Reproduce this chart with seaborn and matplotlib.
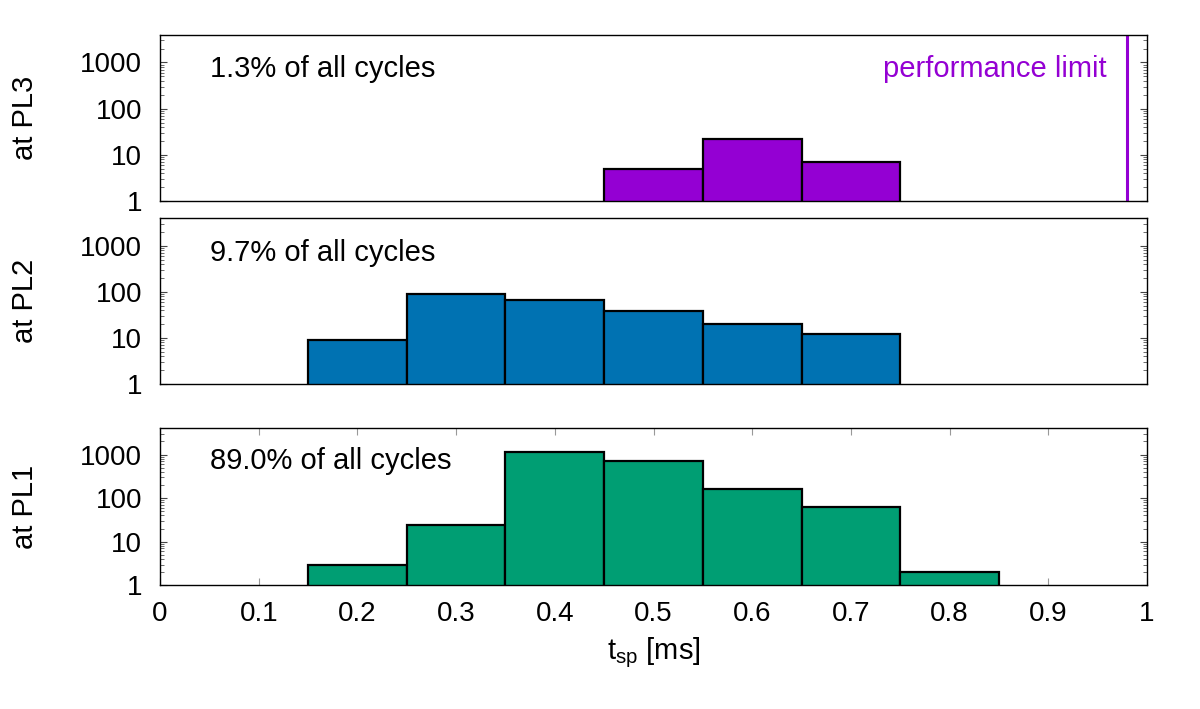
import numpy as np
import pandas as pd
import matplotlib
matplotlib.use("Agg")
import matplotlib.pyplot as plt
import matplotlib.ticker as mticker
import matplotlib.transforms as mtransforms
import seaborn as sns

# ---- data ----
pl3_t = [0.5, 0.6, 0.7]
pl3_n = [5, 22, 7]
pl2_t = [0.2, 0.3, 0.4, 0.5, 0.6, 0.7]
pl2_n = [9, 92, 68, 39, 20, 12]
pl1_t = [0.2, 0.3, 0.4, 0.5, 0.6, 0.7, 0.8]
pl1_n = [3, 24, 1120, 725, 160, 61, 2]
bin_width = 0.1
panel_labels = ["at PL3", "at PL2", "at PL1"]
share_texts = ["1.3% of all cycles", "9.7% of all cycles", "89.0% of all cycles"]
colors = ["#9400D3", "#0072B2", "#009E73"]
perf_limit = 0.98
perf_text = "performance limit"
x_ticks = [0, 0.1, 0.2, 0.3, 0.4, 0.5, 0.6, 0.7, 0.8, 0.9, 1.0]
y_ticks = [1, 10, 100, 1000]

sns.set_style("white")
plt.rcParams["font.family"] = ["Liberation Sans", "DejaVu Sans"]
plt.rcParams["mathtext.fontset"] = "custom"
plt.rcParams["mathtext.rm"] = "Liberation Sans"
plt.rcParams["mathtext.it"] = "Liberation Sans"
plt.rcParams["text.color"] = "black"
plt.rcParams["axes.labelcolor"] = "black"
plt.rcParams["xtick.color"] = "black"
plt.rcParams["ytick.color"] = "black"

W, H = 1200, 709
fig = plt.figure(figsize=(W / 100, H / 100), dpi=100)

# axes boxes in pixels: (left, top, right, bottom)
boxes = [(160, 34.7, 1147, 201.0), (160, 218.3, 1147, 383.7), (160, 428.3, 1147, 585.3)]
series = [(pl3_t, pl3_n), (pl2_t, pl2_n), (pl1_t, pl1_n)]
text_y = [0.747, 0.744, 0.739]
FS = 21
TFS = 20

axes = []
for i, ((l, t, r, b), (tt, nn)) in enumerate(zip(boxes, series)):
    ax = fig.add_axes([l / W, (H - b) / H, (r - l) / W, (b - t) / H])
    axes.append(ax)
    df = pd.DataFrame({"t": tt, "n": nn})
    lo = min(tt) - bin_width / 2
    hi = max(tt) + bin_width / 2
    sns.histplot(data=df, x="t", weights="n", binwidth=bin_width, binrange=(lo, hi),
                 ax=ax, color=colors[i], edgecolor="black", linewidth=1.6,
                 alpha=1.0, stat="count")
    ax.set_yscale("log")
    ax.set_ylim(1, 4000)
    ax.set_xlim(0, 1)
    ax.set_xlabel("")
    ax.set_ylabel("")
    ax.set_yticks(y_ticks)
    ax.yaxis.set_major_formatter(mticker.FuncFormatter(lambda v, p: "%g" % v))
    ax.yaxis.set_minor_locator(mticker.LogLocator(base=10, subs=np.arange(2, 10), numticks=20))
    ax.yaxis.set_minor_formatter(mticker.NullFormatter())
    ax.tick_params(axis="y", which="major", direction="in", length=5, width=0.8,
                   left=True, right=True, labelsize=TFS, pad=13, color="#444444",
                   labelcolor="black")
    ax.tick_params(axis="y", which="minor", direction="in", length=3, width=0.6,
                   left=True, right=True, color="#555555")
    ax.set_xticks(x_ticks)
    if i < 2:
        ax.tick_params(axis="x", which="both", bottom=False, top=False, labelbottom=False)
    else:
        ax.xaxis.set_major_formatter(mticker.FuncFormatter(lambda v, p: "%g" % v))
        ax.tick_params(axis="x", which="major", direction="in", length=5, width=0.8,
                       bottom=True, top=True, labelsize=TFS, pad=11, color="#999999",
                       labelcolor="black")
        ax.tick_params(axis="x", which="minor", bottom=False, top=False)
        ax.set_xlabel(r"$\mathregular{t_{sp}}$ [ms]", fontsize=FS, labelpad=6)
    for s in ax.spines.values():
        s.set_visible(True)
        s.set_color("black")
        s.set_linewidth(1.0)
    ax.text(0.0507, text_y[i], share_texts[i], transform=ax.transAxes,
            fontsize=FS, ha="left", va="baseline", color="black")
    fig.text(25 / W, (H - (t + b) / 2) / H, panel_labels[i], rotation=90,
             fontsize=FS, ha="center", va="center")

# performance limit line in top panel
ax0 = axes[0]
ax0.axvline(perf_limit, color=colors[0], linewidth=2.2)
trans = mtransforms.blended_transform_factory(ax0.transData, ax0.transAxes)
ax0.text(perf_limit - 0.021, 0.747, perf_text, transform=trans, fontsize=FS,
         ha="right", va="baseline", color=colors[0])

fig.savefig("out.png", dpi=100)
